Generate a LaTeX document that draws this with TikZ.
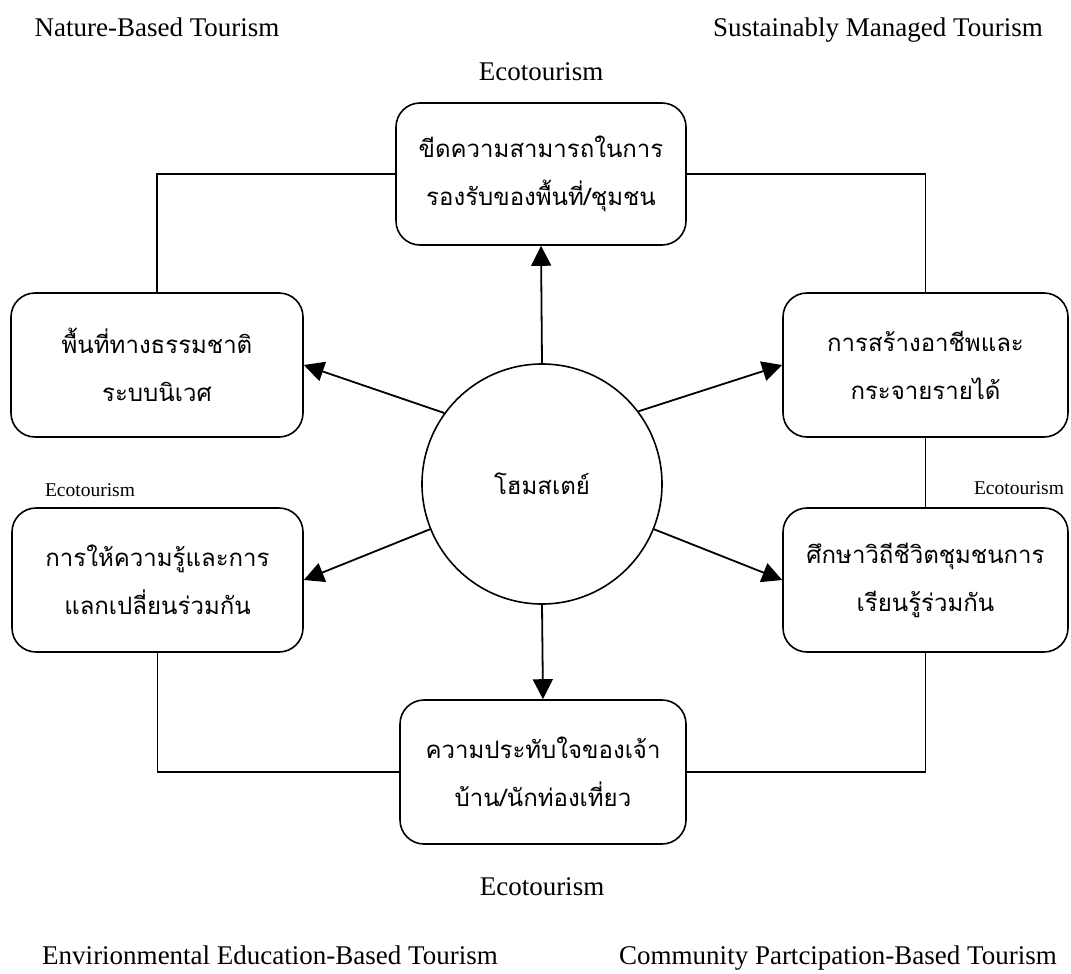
\documentclass[tikz,border=0pt]{standalone}
\usepackage{fontspec}
\setmainfont{Liberation Serif}
\newfontfamily\thai[Script=Thai]{Loma}
\usetikzlibrary{arrows.meta}
\tikzset{
  box/.style={draw, line width=1.6pt, rounded corners=24pt, inner sep=0pt,
    align=center, font=\thai\fontsize{24}{48}\selectfont},
  hub/.style={draw, circle, line width=1.6pt, minimum size=240pt, inner sep=0pt,
    font=\thai\fontsize{24}{30}\selectfont},
  link/.style={line width=1.2pt},
  ray/.style={line width=1.8pt, -{Triangle[length=20pt,width=20pt]}},
  biglabel/.style={font=\fontsize{27}{32}\selectfont, inner sep=0pt, text height=19pt, text depth=6pt},
  smalllabel/.style={font=\fontsize{19.5}{24}\selectfont, inner sep=0pt, text height=14pt, text depth=4pt}
}
\begin{document}
\begin{tikzpicture}[x=1pt, y=-1pt]
\useasboundingbox[fill=white] (0,0) rectangle (1071,974);
% boxes
\node[box, minimum width=290pt, minimum height=142pt] (T) at (541,174) {ขีดความสามารถในการ\\รองรับของพื้นที่/ชุมชน};
\node[box, minimum width=292pt, minimum height=144pt] (LT) at (157,365) {พื้นที่ทางธรรมชาติ\\ระบบนิเวศ};
\node[box, minimum width=285pt, minimum height=144pt] (RT) at (925.5,365) {การสร้างอาชีพและ\\กระจายรายได้};
\node[box, minimum width=291pt, minimum height=144pt] (LB) at (157.5,580) {การให้ความรู้และการ\\แลกเปลี่ยนร่วมกัน};
\node[box, minimum width=285pt, minimum height=144pt] (RB) at (925.5,580) {ศึกษาวิถีชีวิตชุมชนการ\\เรียนรู้ร่วมกัน};
\node[box, minimum width=286pt, minimum height=144pt] (B) at (543,772) {ความประทับใจของเจ้า\\บ้าน/นักท่องเที่ยว};
\node[hub] (C) at (542,484) {โฮมสเตย์};
% labels
\node[biglabel] (l1) at (157,30) {Nature-Based Tourism};
\node[biglabel] (l2) at (878,30) {Sustainably Managed Tourism};
\node[biglabel] (e1) at (541,74) {Ecotourism};
\node[smalllabel] (e2) at (90,491) {Ecotourism};
\node[smalllabel] (e3) at (1019,489) {Ecotourism};
\node[biglabel] (e4) at (542,889) {Ecotourism};
\node[biglabel] (l3) at (270,958) {Envirionmental Education-Based Tourism};
\node[biglabel] (l4) at (838,958) {Community Partcipation-Based Tourism};
% connectors
\draw[link] (T.west) -| (LT.north);
\draw[link] (T.east) -| (RT.north);
\draw[link] (RT.south) -- (RB.north);
\draw[link] (LB.south) |- (B.west);
\draw[link] (RB.south) |- (B.east);
% arrows
\draw[ray] (C.north) -- (T.south);
\draw[ray] (C.south) -- (B.north);
\draw[ray] (C.144) -- (LT.east);
\draw[ray] (C.37) -- (RT.west);
\draw[ray] (C.202) -- (LB.east);
\draw[ray] (C.-22) -- (RB.west);
\end{tikzpicture}
\end{document}
